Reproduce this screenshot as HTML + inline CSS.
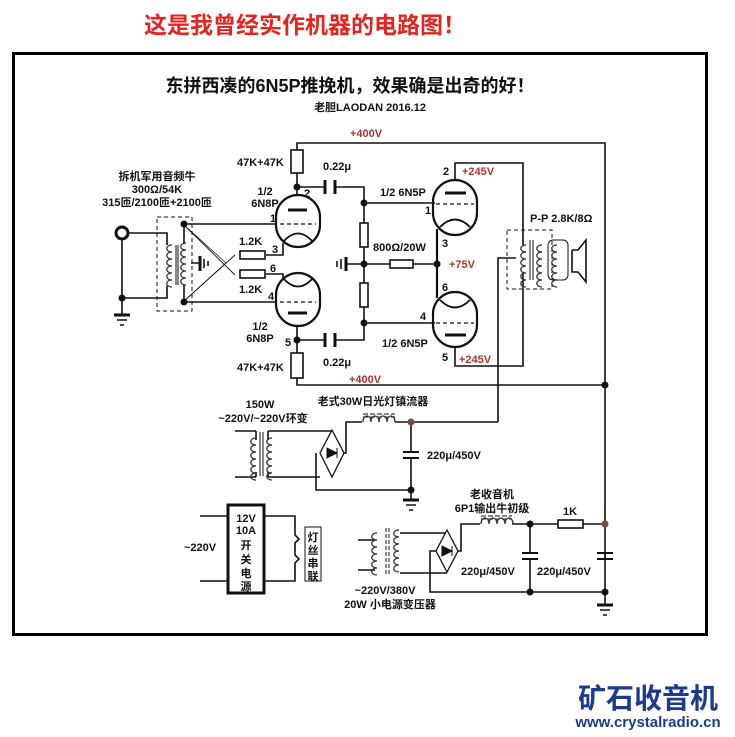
<!DOCTYPE html>
<html><head><meta charset="utf-8"><style>
html,body{margin:0;padding:0;background:#fff}
svg{display:block}
text{font-family:"Liberation Sans","Noto Sans CJK SC",sans-serif;font-weight:bold;fill:#111}
.r{fill:#a33}
</style></head><body>
<svg width="735" height="737" viewBox="0 0 735 737" xmlns="http://www.w3.org/2000/svg">
<defs>
<g id="coilv"><path d="M0 0 c-7 0 -7 7 0 7 c-7 0 -7 7 0 7 c-7 0 -7 7 0 7 c-7 0 -7 7 0 7 c-7 0 -7 7 0 7 c-7 0 -7 7 0 7" fill="none" stroke="#333" stroke-width="1.3"/></g>
<g id="coilh"><path d="M0 0 c0 -8 8 -8 8 0 c0 -8 8 -8 8 0 c0 -8 8 -8 8 0 c0 -8 8 -8 8 0" fill="none" stroke="#333" stroke-width="1.3"/></g>
</defs>
<text x="305" y="33" font-size="23" text-anchor="middle" style="fill:#e3241f">这是我曾经实作机器的电路图！</text>
<rect x="13.5" y="53.5" width="693" height="581" fill="none" stroke="#000" stroke-width="3"/>
<text x="350" y="92" font-size="18" text-anchor="middle">东拼西凑的6N5P推挽机，效果确是出奇的好！</text>
<text x="370" y="111" font-size="11" text-anchor="middle">老胆LAODAN   2016.12</text>
<text x="366" y="137" font-size="11" text-anchor="middle" class="r">+400V</text>

<g stroke="#111" stroke-width="1.6" fill="none">
<!-- rails -->
<path d="M297 150 V143 H605 V605"/>
<path d="M297 378 V385 H605"/>
<!-- upper 6N8P -->
<rect x="291" y="150" width="12" height="23" fill="#fff"/>
<path d="M297 173 V196 M297 187 H325 M335 187 H364 V340 H335 M325 340 H297 M297 326 V353"/>
<rect x="291" y="353" width="12" height="25" fill="#fff"/>
<path d="M325 180 V194 M335 180 V194 M325 333 V347 M335 333 V347" stroke-width="3"/>
<rect x="276" y="195" width="44" height="52" rx="22" stroke-width="2.2"/>
<rect x="276" y="273" width="44" height="53" rx="22" stroke-width="2.2"/>
<path d="M288 210 H307 M288 313 H307" stroke-width="3"/>
<path d="M280 224 H316 M280 302 H316" stroke-dasharray="4 3" stroke-width="1.2"/>
<path d="M283 242 Q298 225 313 242 M283 278 Q298 295 313 278" stroke-width="1.8"/>
<path d="M183 224 H277 M183 302 H277"/>
<path d="M283 243 V255 H266 M283 278 V274 H266"/>
<rect x="240" y="251" width="25" height="8"/><rect x="240" y="270" width="25" height="8"/>
<path d="M183 224 L235 275 M183 302 L235 255" stroke-width="0.9"/>
<path d="M183 224 L226 263 L183 302" stroke-width="0.7"/>
<!-- dividers -->
<rect x="360" y="223" width="8" height="24" fill="#fff"/>
<rect x="360" y="283" width="8" height="24" fill="#fff"/>
<path d="M364 203 H435 M364 323 H435 M346 264 H390 M413 264 H437"/>
<rect x="390" y="260" width="23" height="8" fill="#fff"/>
<path d="M346 257 V271" stroke-width="3"/><path d="M341 259 V269 M337 261 V267"/>
<!-- 6N5P -->
<rect x="433" y="180" width="44" height="55" rx="22" stroke-width="2.2"/>
<rect x="433" y="292" width="44" height="55" rx="22" stroke-width="2.2"/>
<path d="M445 193 H466 M445 335 H466" stroke-width="3"/>
<path d="M436 204 H474 M436 323 H474" stroke-dasharray="4 3" stroke-width="1.2"/>
<path d="M440 227 Q455 212 470 227 M440 300 Q455 315 470 300" stroke-width="1.8"/>
<path d="M437 229 V298" stroke-width="2.2"/>
<path d="M455 180 V163 H523 V245 M455 347 V366 H523 V272"/>
<path d="M498 422 V258 H516"/>
<!-- output transformer -->
<rect x="507" y="230" width="45" height="59" stroke-dasharray="4 3" stroke-width="1"/>
<path d="M530 240 V280 M533 240 V280" stroke-width="1"/>
<rect x="548" y="240" width="20" height="40" rx="5" stroke-width="1"/>
<path d="M572 250 V272 H578 L586 282 V240 L578 250 H572" stroke-width="1.6"/>
<!-- input transformer -->
<rect x="157" y="217" width="35" height="94" stroke-dasharray="4 3" stroke-width="1"/>
<path d="M129 233 H167 V245 M122 240 V315 M122 298 H167 V286 M184 224 V243 M184 302 V285 M191 263 H200"/>
<path d="M176 245 V285 M178 245 V285" stroke-width="1"/>
<path d="M200 256 V271" stroke-width="3"/><path d="M204 259 V268 M208 261 V266"/>
<path d="M114 315 H130" stroke-width="3"/><path d="M117 320 H127 M120 325 H124"/>
<!-- power 1 -->
<path d="M235 431 H256 M235 477 H256 M268 431 H332 M268 477 H320 M316 453 V490 H411 M343 453 H346 V422 H362 M395 422 H498 M411 422 V452 M411 458 V490 M411 490 V500"/>
<path d="M256 431 V440 M256 472 V477 M268 431 V440 M268 472 V477"/>
<path d="M260 432 V476 M263 432 V476" stroke-width="1"/>
<path d="M332 430 L344 453 L332 477 L320 453 Z" fill="#fff" stroke-width="1.3"/>
<path d="M403 452 H419 M403 458 H419" stroke-width="2"/>
<path d="M403 500 H419" stroke-width="3"/><path d="M406 505 H416 M409 510 H413"/>
<path d="M363 417 H395 M363 414 H395" stroke-dasharray="5 2" stroke-width="1"/>
<!-- filament -->
<rect x="228" y="505" width="36" height="88" stroke-width="3"/>
<path d="M200 516 H228 M200 581 H228 M264 516 H295 V535 l4 4 -4 4 V555 l4 4 -4 4 V581 H264"/>
<rect x="305" y="527" width="16" height="54" stroke-width="1"/>
<!-- power 2 -->
<path d="M358 540 H375 M358 570 H375 M400 533 H447 M400 573 H447 M437 551 H430 V592 H605 M458 551 H461 V524 H480 M512 524 H558 M583 524 H605 M530 524 V553 M530 559 V592 M605 553 V559"/>
<path d="M386 528 V576 M389 528 V576" stroke-dasharray="4 2" stroke-width="1"/>
<path d="M447 530 L458 551 L447 572 L436 551 Z" fill="#fff" stroke-width="1.3"/>
<rect x="558" y="520" width="25" height="8" fill="#fff"/>
<path d="M522 553 H538 M522 559 H538 M597 553 H613 M597 559 H613" stroke-width="2"/>
<path d="M597 605 H613" stroke-width="3"/><path d="M600 610 H610 M603 615 H607"/>
<path d="M481 519 H512 M481 516 H512" stroke-dasharray="5 2" stroke-width="1"/>
</g>
<!-- coils -->
<use href="#coilv" x="172" y="245"/><use href="#coilv" x="186" y="243"/>
<use href="#coilv" x="256" y="438"/><use href="#coilv" x="272" y="438"/>
<use href="#coilv" x="377" y="533"/><use href="#coilv" x="399" y="530"/>
<use href="#coilv" x="526" y="245"/><use href="#coilv" x="542" y="245"/><use href="#coilv" x="557" y="245"/>
<use href="#coilh" x="363" y="422"/><use href="#coilh" x="481" y="524"/>
<path d="M327 448 L327 458 L337 453 Z M337 448 V458" fill="#111" stroke="#111"/>
<path d="M442 546 L442 556 L452 551 Z M452 546 V556" fill="#111" stroke="#111"/>
<circle cx="122" cy="233" r="6" fill="none" stroke="#111" stroke-width="3"/>
<g fill="#111">
<circle cx="122" cy="298" r="3.5"/><circle cx="184" cy="224" r="3.5"/><circle cx="184" cy="302" r="3.5"/>
<circle cx="297" cy="187" r="3.5"/><circle cx="297" cy="340" r="3.5"/>
<circle cx="364" cy="203" r="3.5"/><circle cx="364" cy="264" r="3.5"/><circle cx="364" cy="323" r="3.5"/>
<circle cx="437" cy="264" r="3.5"/><circle cx="605" cy="385" r="3.5"/>
<circle cx="411" cy="490" r="3.5"/><circle cx="530" cy="524" r="3.5"/>
<circle cx="530" cy="592" r="3.5"/><circle cx="605" cy="592" r="3.5"/>
</g>
<circle cx="411" cy="422" r="3.5" fill="#7a4a3a"/><circle cx="605" cy="524" r="3.5" fill="#7a4a3a"/>

<g font-size="11">
<text x="157" y="180" text-anchor="middle">拆机军用音频牛</text>
<text x="157" y="193" text-anchor="middle">300Ω/54K</text>
<text x="157" y="206" text-anchor="middle">315匝/2100匝+2100匝</text>
<text x="265" y="195" text-anchor="middle">1/2</text><text x="265" y="207" text-anchor="middle">6N8P</text>
<text x="260" y="330" text-anchor="middle">1/2</text><text x="260" y="342" text-anchor="middle">6N8P</text>
<text x="237" y="166">47K+47K</text><text x="237" y="371">47K+47K</text>
<text x="323" y="170">0.22μ</text><text x="323" y="366">0.22μ</text>
<text x="304" y="197">2</text><text x="270" y="222">1</text><text x="272" y="253">3</text>
<text x="270" y="272">6</text><text x="268" y="300">4</text><text x="285" y="346">5</text>
<text x="239" y="245">1.2K</text><text x="239" y="293">1.2K</text>
<text x="373" y="251">800Ω/20W</text>
<text x="380" y="196">1/2 6N5P</text><text x="382" y="347">1/2 6N5P</text>
<text x="425" y="214">1</text><text x="443" y="175">2</text><text x="442" y="247">3</text>
<text x="442" y="291">6</text><text x="420" y="320">4</text><text x="442" y="361">5</text>
<text x="462" y="175" class="r">+245V</text><text x="459" y="363" class="r">+245V</text>
<text x="449" y="268" class="r">+75V</text><text x="349" y="383" class="r">+400V</text>
<text x="530" y="222">P-P 2.8K/8Ω</text>
<text x="260" y="408" text-anchor="middle">150W</text>
<text x="263" y="422" text-anchor="middle">~220V/~220V环变</text>
<text x="373" y="405" text-anchor="middle">老式30W日光灯镇流器</text>
<text x="427" y="459">220μ/450V</text>
<text x="246" y="522" text-anchor="middle">12V</text><text x="246" y="534" text-anchor="middle">10A</text>
<text x="246" y="549" text-anchor="middle">开</text><text x="246" y="563" text-anchor="middle">关</text>
<text x="246" y="577" text-anchor="middle">电</text><text x="246" y="590" text-anchor="middle">源</text>
<text x="184" y="551">~220V</text>
<text x="313" y="541" text-anchor="middle">灯</text><text x="313" y="554" text-anchor="middle">丝</text>
<text x="313" y="567" text-anchor="middle">串</text><text x="313" y="580" text-anchor="middle">联</text>
<text x="492" y="498" text-anchor="middle">老收音机</text>
<text x="492" y="512" text-anchor="middle">6P1输出牛初级</text>
<text x="570" y="515" text-anchor="middle">1K</text>
<text x="461" y="575">220μ/450V</text><text x="537" y="575">220μ/450V</text>
<text x="385" y="594" text-anchor="middle">~220V/380V</text>
<text x="390" y="608" text-anchor="middle">20W 小电源变压器</text>
</g>
<text x="648" y="708" font-size="28" text-anchor="middle" style="fill:#1b3c8c">矿石收音机</text>
<text x="648" y="727" font-size="15" text-anchor="middle" style="fill:#1b3c8c">www.crystalradio.cn</text>
</svg>
</body></html>
